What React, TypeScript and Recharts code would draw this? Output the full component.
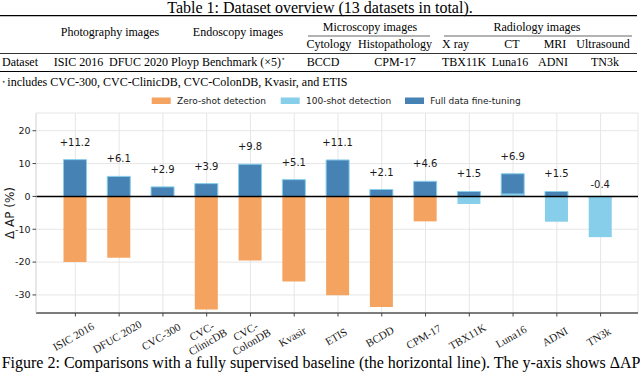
import {
    BarChart,
    Bar,
    XAxis,
    YAxis,
    CartesianGrid,
    ReferenceLine,
    LabelList,
} from "recharts";

// datasets on the x axis ("\n" = line break in the tick label)
const categories = [
    "ISIC 2016", "DFUC 2020", "CVC-300", "CVC-\nClinicDB", "CVC-\nColonDB", "Kvasir",
    "ETIS", "BCDD", "CPM-17", "TBX11K", "Luna16", "ADNI", "TN3k",
];
// delta AP (%) vs the fully supervised baseline
const zeroShot = [-20.0, -18.7, null, -34.4, -19.5, -25.9, -30.1, -33.7, -7.6, null, null, null, null];
const fewShot = [null, null, null, null, null, null, null, null, null, -2.3, 0.9, -7.7, -12.4];
const fullData = [11.2, 6.1, 2.9, 3.9, 9.8, 5.1, 11.1, 2.1, 4.6, 1.5, 6.9, 1.5, -0.4];
const yTicks = [-30, -20, -10, 0, 10, 20];
const yDomain = [-35.5, 25.4];

const seriesNames = ["Zero-shot detection", "100-shot detection", "Full data fine-tuning"];
const seriesColors = ["#F4A460", "#87CEEB", "#4682B4"];

// table 1 texts
const tableTitle = "Table 1: Dataset overview (13 datasets in total).";
const footnote = "includes CVC-300, CVC-ClinicDB, CVC-ColonDB, Kvasir, and ETIS";
const caption = "Figure 2: Comparisons with a fully supervised baseline (the horizontal line). The y-axis shows \u0394AP";

const data = categories.map((name, i) => ({
    name,
    zero: zeroShot[i],
    few: fewShot[i],
    full: fullData[i],
}));

const SANS = "'DejaVu Sans', sans-serif";
const SERIF = "'Liberation Serif', 'Times New Roman', serif";
const INK = "#1a1a1a";

const XTick = (props: any) => {
    const { x, y, payload } = props;
    const lines = String(payload.value).split("\n");
    const cx = x - 2;
    const cy = y + 18;
    const lh = 12;
    return (
        <g transform={`rotate(-30, ${cx}, ${cy})`}>
            {lines.map((l, i) => (
                <text
                    key={i}
                    x={cx}
                    y={cy + (i - (lines.length - 1) / 2) * lh}
                    textAnchor="middle"
                    dominantBaseline="central"
                    fontFamily={SERIF}
                    fontSize={11}
                    fill={INK}
                >
                    {l}
                </text>
            ))}
        </g>
    );
};

const ValueLabel = (props: any) => {
    const { value } = props;
    if (value == null) return null;
    const vb = props.viewBox && props.viewBox.width != null ? props.viewBox : props;
    const { x, y, width, height } = vb;
    const top = Math.min(y, y + height);
    const txt = value > 0 ? `+${Number(value).toFixed(1)}` : Number(value).toFixed(1);
    return (
        <text
            x={x + width / 2}
            y={top - (value < 0 ? 8 : 14)}
            textAnchor="middle"
            fontFamily={SANS}
            fontSize={10}
            fill={INK}
        >
            {txt}
        </text>
    );
};

const legendX = [151.7, 280.7, 405];

export default function App() {
    return (
        <div style={{ position: "absolute", left: 0, top: 0, width: 640, height: 372, background: "#fff" }}>
            <BarChart
                width={640}
                height={372}
                data={data}
                margin={{ top: 113, right: 2, bottom: 0, left: 0 }}
                barGap={-23}
            >
                <CartesianGrid stroke="#e6e6e6" strokeWidth={1} />
                <XAxis
                    dataKey="name"
                    interval={0}
                    height={59}
                    padding={{ left: 17.5, right: 15.5 }}
                    axisLine={{ stroke: "#555", strokeWidth: 1.5 }}
                    tickLine={{ stroke: "#444" }}
                    tickSize={3.5}
                    tick={<XTick />}
                />
                <XAxis
                    xAxisId="top"
                    dataKey="name"
                    orientation="top"
                    height={0}
                    tick={false}
                    tickLine={false}
                    axisLine={{ stroke: "#dcdcdc" }}
                />
                <YAxis
                    type="number"
                    domain={yDomain}
                    ticks={yTicks}
                    width={36}
                    axisLine={{ stroke: "#dcdcdc" }}
                    tickLine={{ stroke: "#444" }}
                    tickSize={3.5}
                    tickMargin={2}
                    tick={{ fontFamily: SANS, fontSize: 9.5, fill: INK }}
                />
                <YAxis
                    yAxisId="right"
                    orientation="right"
                    type="number"
                    domain={yDomain}
                    width={0}
                    tick={false}
                    tickLine={false}
                    axisLine={{ stroke: "#dcdcdc" }}
                />
                <Bar dataKey="zero" fill={seriesColors[0]} barSize={23} isAnimationActive={false} />
                <Bar
                    dataKey="full"
                    fill={seriesColors[2]}
                    stroke={seriesColors[1]}
                    strokeWidth={1}
                    barSize={23}
                    isAnimationActive={false}
                >
                    <LabelList dataKey="full" content={<ValueLabel />} />
                </Bar>
                <Bar dataKey="few" fill={seriesColors[1]} barSize={23} isAnimationActive={false} />
                <ReferenceLine y={0} stroke="#000" strokeWidth={1.5} />
            </BarChart>

            <svg
                width={640}
                height={372}
                style={{ position: "absolute", left: 0, top: 0, pointerEvents: "none" }}
            >
                {/* table 1 */}
                <text x={320} y={12.5} textAnchor="middle" fontFamily={SERIF} fontSize={16} fill="#000">
                    {tableTitle}
                </text>
                <line x1={0} x2={637} y1={15.7} y2={15.7} stroke="#000" strokeWidth={1.2} />
                <g fontFamily={SERIF} fontSize={12} fill="#000">
                    <text x={110} y={36} textAnchor="middle">Photography images</text>
                    <text x={238} y={36} textAnchor="middle">Endoscopy images</text>
                    <text x={370} y={31} textAnchor="middle">Microscopy images</text>
                    <text x={537} y={31} textAnchor="middle">Radiology images</text>
                    <text x={306.5} y={48}>Cytology</text>
                    <text x={395} y={48} textAnchor="middle">Histopathology</text>
                    <text x={442} y={48}>X ray</text>
                    <text x={512} y={48} textAnchor="middle">CT</text>
                    <text x={555} y={48} textAnchor="middle">MRI</text>
                    <text x={603} y={48} textAnchor="middle">Ultrasound</text>

                    <text x={2} y={66}>Dataset</text>
                    <text x={78.5} y={66} textAnchor="middle">ISIC 2016</text>
                    <text x={138.5} y={66} textAnchor="middle">DFUC 2020</text>
                    <text x={228} y={66} textAnchor="middle">
                        Ployp Benchmark (×5)
                        <tspan fontSize={7} dy={-5}>⋆</tspan>
                    </text>
                    <text x={306.7} y={66}>BCCD</text>
                    <text x={395} y={66} textAnchor="middle">CPM-17</text>
                    <text x={442} y={66}>TBX11K</text>
                    <text x={510} y={66} textAnchor="middle">Luna16</text>
                    <text x={553} y={66} textAnchor="middle">ADNI</text>
                    <text x={605} y={66} textAnchor="middle">TN3k</text>
                </g>
                <line x1={308} x2={430} y1={36} y2={36} stroke="#000" strokeWidth={0.6} />
                <line x1={444} x2={632} y1={36} y2={36} stroke="#000" strokeWidth={0.6} />
                <line x1={0} x2={637} y1={53.5} y2={53.5} stroke="#000" strokeWidth={0.8} />
                <line x1={0} x2={637} y1={71.5} y2={71.5} stroke="#000" strokeWidth={1.2} />
                <text x={1.5} y={84} fontFamily={SANS} fontSize={7} fill="#000">⋆</text>
                <text x={7.3} y={85.5} fontFamily={SERIF} fontSize={12} fill="#000">{footnote}</text>

                {/* legend */}
                {seriesNames.map((n, i) => (
                    <g key={n}>
                        <rect x={legendX[i]} y={97.5} width={19} height={6.5} fill={seriesColors[i]} />
                        <text x={legendX[i] + 25.3} y={104} fontFamily={SANS} fontSize={9} fill={INK}>
                            {n}
                        </text>
                    </g>
                ))}

                {/* y label */}
                <text
                    transform="translate(13.5, 213) rotate(-90)"
                    textAnchor="middle"
                    fontFamily={SANS}
                    fontSize={12}
                    fill={INK}
                >
                    Δ AP (%)
                </text>

                {/* caption */}
                <text x={1.7} y={368} fontFamily={SERIF} fontSize={16} fill="#000">{caption}</text>
            </svg>
        </div>
    );
}
